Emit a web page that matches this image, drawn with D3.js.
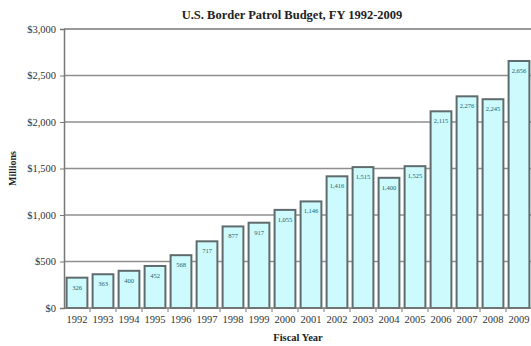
<!DOCTYPE html>
<html><head><meta charset="utf-8">
<script src="https://cdn.jsdelivr.net/npm/d3@7"></script>
<style>body{margin:0;background:#fff;}svg{display:block;}</style>
</head><body>
<script>
const years = ["1992","1993","1994","1995","1996","1997","1998","1999","2000","2001","2002","2003","2004","2005","2006","2007","2008","2009"];
const budget = [326,363,400,452,568,717,877,917,1055,1146,1416,1515,1400,1525,2115,2276,2245,2656];
const yTicks = [0,500,1000,1500,2000,2500,3000];
const title = "U.S. Border Patrol Budget, FY 1992-2009";

const W = 531, H = 346;
const m = {left:64, right:-1, top:29, bottom:38};
const svg = d3.select("body").append("svg").attr("width",W).attr("height",H);
const x = d3.scaleBand().domain(years).range([m.left, W - m.right]).paddingInner(0.2).paddingOuter(0.1);
const y = d3.scaleLinear().domain([0,3000]).range([H - m.bottom, m.top]);
const font = "'Liberation Serif','Times New Roman',serif";

// gridlines
svg.append("g").selectAll("line").data(yTicks.filter(d=>d>0 && d<3000)).join("line")
  .attr("x1", m.left).attr("x2", W).attr("y1", d=>y(d)).attr("y2", d=>y(d))
  .attr("stroke","#8f8f8f").attr("stroke-width",1.5);

// top border
svg.append("line").attr("x1",m.left).attr("x2",W).attr("y1",y(3000)).attr("y2",y(3000))
  .attr("stroke","#777").attr("stroke-width",1.5);

// bars
svg.append("g").selectAll("rect").data(years).join("rect")
  .attr("x", d=>x(d)).attr("width", x.bandwidth())
  .attr("y", (d,i)=>y(budget[i])).attr("height", (d,i)=>y(0)-y(budget[i]))
  .attr("fill","#cdfbfd").attr("stroke","#5f6b6d").attr("stroke-width",2);

// value labels
svg.append("g").selectAll("text").data(years).join("text")
  .attr("x", d=>x(d)+x.bandwidth()/2).attr("y",(d,i)=>y(budget[i])+12)
  .attr("text-anchor","middle").attr("font-family",font).attr("font-size",6.5)
  .attr("fill","#2a5e6a").text((d,i)=>d3.format(",")(budget[i]));

// y axis
const ya = svg.append("g").attr("transform",`translate(${m.left},0)`)
  .call(d3.axisLeft(y).tickValues(yTicks).tickSize(4).tickFormat(d=>"$"+d3.format(",")(d)));
ya.select(".domain").attr("stroke","#777").attr("stroke-width",1.5);
ya.selectAll(".tick line").attr("stroke","#777");
ya.selectAll("text").attr("font-family",font).attr("font-size",10.5).attr("fill","#333").attr("dx",-1);

// x axis
const xa = svg.append("g").attr("transform",`translate(0,${y(0)})`)
  .call(d3.axisBottom(x).tickSize(0).tickPadding(8));
xa.select(".domain").remove();
xa.selectAll("text").attr("font-family",font).attr("font-size",10.5).attr("fill","#333");
svg.append("line").attr("x1",m.left).attr("x2",W).attr("y1",y(0)).attr("y2",y(0))
  .attr("stroke","#777").attr("stroke-width",1.5);
// category boundary ticks
svg.append("g").selectAll("line").data(years.slice(1)).join("line")
  .attr("x1", d=>x(d)-x.step()*x.paddingInner()/2).attr("x2", d=>x(d)-x.step()*x.paddingInner()/2)
  .attr("y1", y(0)).attr("y2", y(0)+4).attr("stroke","#777");

// title
svg.append("text").attr("x",292).attr("y",19).attr("text-anchor","middle")
  .attr("font-family",font).attr("font-weight","bold").attr("font-size",12.5).attr("fill","#222").text(title);
// axis titles
svg.append("text").attr("x",298).attr("y",341).attr("text-anchor","middle")
  .attr("font-family",font).attr("font-weight","bold").attr("font-size",10.5).attr("fill","#222").text("Fiscal Year");
svg.append("text").attr("transform",`translate(16,${(y(0)+y(3000))/2}) rotate(-90)`).attr("text-anchor","middle")
  .attr("font-family",font).attr("font-weight","bold").attr("font-size",10).attr("fill","#222").text("Millions");
</script>
</body></html>
